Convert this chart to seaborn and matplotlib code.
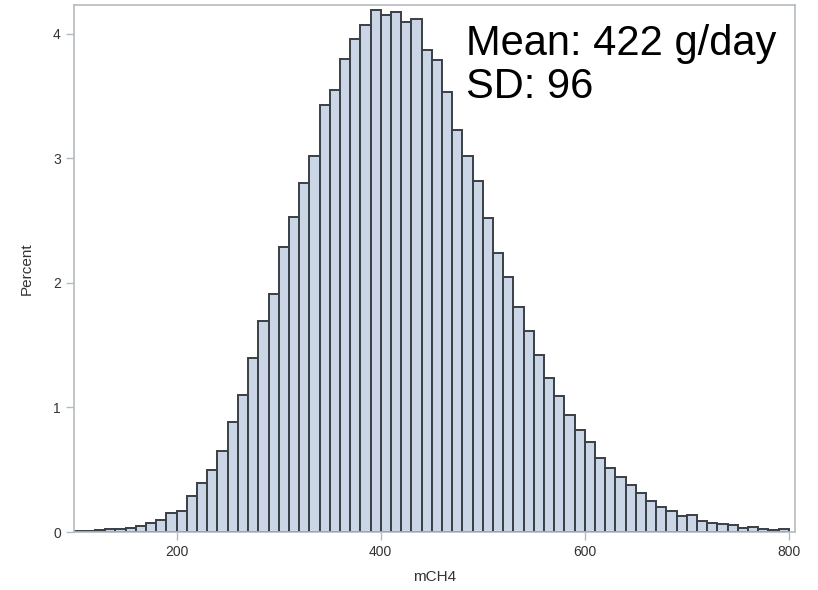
#!/usr/bin/env python3

import numpy as np
import pandas as pd
import seaborn as sns
import matplotlib.pyplot as plt

# === Histogram values (bin start, percent of animals) ===
bin_start = list(range(100, 800, 10))
percent = [
    0.008, 0.010, 0.018, 0.025, 0.025, 0.035, 0.045, 0.070, 0.095, 0.150,
    0.170, 0.285, 0.390, 0.500, 0.650, 0.880, 1.100, 1.400, 1.690, 1.910,
    2.290, 2.530, 2.800, 3.020, 3.430, 3.550, 3.800, 3.960, 4.070, 4.190,
    4.150, 4.170, 4.090, 4.120, 3.870, 3.790, 3.530, 3.230, 3.020, 2.820,
    2.520, 2.240, 2.050, 1.810, 1.610, 1.420, 1.240, 1.090, 0.940, 0.820,
    0.720, 0.590, 0.510, 0.440, 0.380, 0.310, 0.250, 0.200, 0.170, 0.130,
    0.140, 0.090, 0.070, 0.067, 0.056, 0.030, 0.040, 0.022, 0.014, 0.022,
]
x_ticks = [200, 400, 600, 800]
y_ticks = [0, 1, 2, 3, 4]
stats_text = "Mean: 422 g/day\nSD: 96"


def main():
    df = pd.DataFrame({"mCH4": np.array(bin_start) + 5, "pct": percent})

    sns.set_theme(style="white")
    plt.rcParams["font.family"] = ["Liberation Sans", "DejaVu Sans"]

    fig = plt.figure(figsize=(8.18, 5.90), dpi=100)
    ax = fig.add_axes([0.0905, 0.0983, 0.8814, 0.8932])

    sns.histplot(
        data=df, x="mCH4", weights="pct", binwidth=10, binrange=(100, 800),
        color="#CAD5E5", alpha=1, edgecolor="#3A3F46", linewidth=1.4, ax=ax
    )

    ax.set_xlim(99.4, 806)
    ax.set_ylim(0, 4.23)
    ax.set_xticks(x_ticks)
    ax.set_yticks(y_ticks)

    frame = "#B4BBC0"
    for s in ax.spines.values():
        s.set_color(frame)
        s.set_linewidth(1.2)
    ax.tick_params(axis="both", direction="out", length=6, width=1,
                   color=frame, labelsize=10, labelcolor="#333333",
                   bottom=True, left=True)

    ax.set_xlabel("mCH4", fontsize=11, color="#333333", labelpad=8)
    ax.set_ylabel("Percent", fontsize=11, color="#333333", labelpad=14)

    ax.text(483.5, 4.08, stats_text, fontsize=30, color="black",
            ha="left", va="top", linespacing=1.12)

    fig.savefig("out.png", dpi=100)
    plt.close(fig)


if __name__ == "__main__":
    main()
